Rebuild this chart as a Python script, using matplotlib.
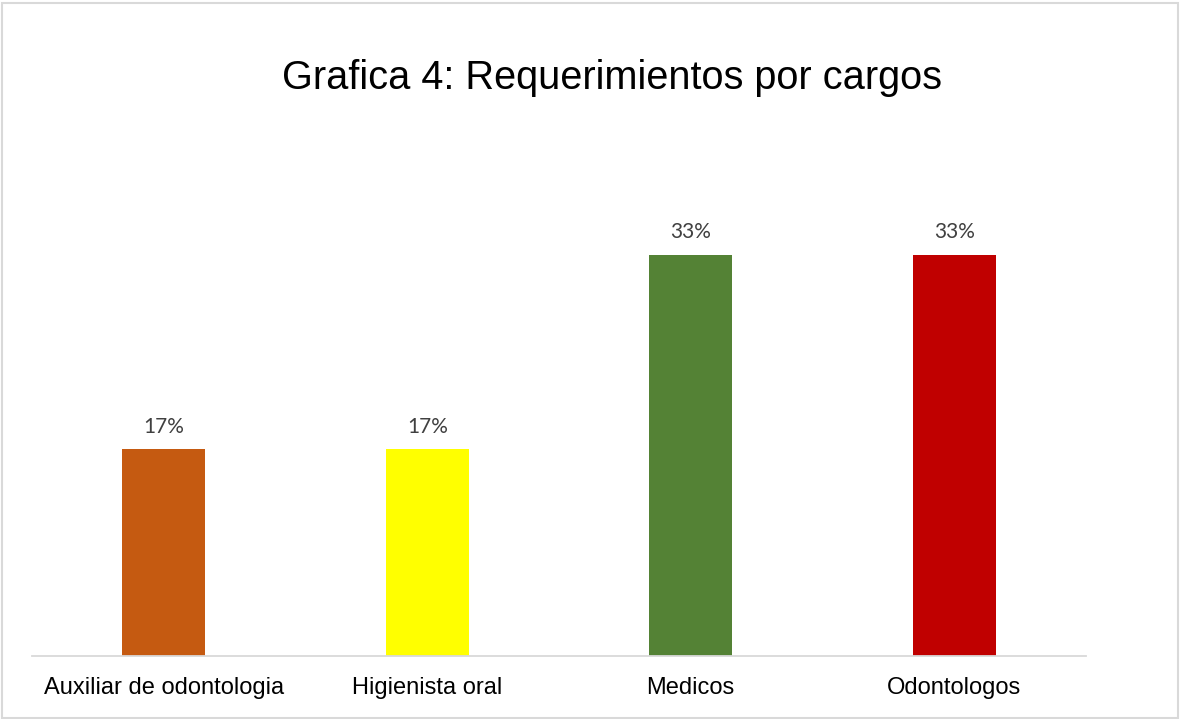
import matplotlib
matplotlib.use("Agg")
import matplotlib.pyplot as plt
from matplotlib.patches import Rectangle

categories = ["Auxiliar de odontologia", "Higienista oral", "Medicos", "Odontologos"]
values = [0.17, 0.17, 0.33, 0.33]
labels = ["17%", "17%", "33%", "33%"]
colors = ["#C55A11", "#FFFF00", "#548235", "#C00000"]

W, H = 1180, 719
fig = plt.figure(figsize=(W / 100, H / 100), dpi=100)

# light grey frame round the whole chart
fig.patches.append(Rectangle((1.5 / W, 1.5 / H), (W - 4) / W, (H - 4) / H,
                             transform=fig.transFigure, fill=False,
                             edgecolor="#d9d9d9", linewidth=1.5))

ax = fig.add_axes([32 / W, 63 / H, (1086 - 32) / W, (656 - 150) / H])
x = range(len(categories))
ax.bar(x, values, width=0.315, color=colors)
ax.set_xlim(-0.5, 3.5)
ax.set_ylim(0, 506 / 1215)

for xi, v, lab in zip(x, values, labels):
    ax.annotate(lab, (xi, v), xytext=(0, 16.5), textcoords="offset points",
                ha="center", va="center", fontsize=15, color="#404040",
                family=["Lato", "DejaVu Sans"])

for s in ["top", "left", "right"]:
    ax.spines[s].set_visible(False)
ax.spines["bottom"].set_color("#d9d9d9")
ax.spines["bottom"].set_linewidth(1.3)
ax.set_yticks([])
ax.set_xticks(list(x))
ax.set_xticklabels(categories, fontsize=17, family="Liberation Sans", color="black")
ax.tick_params(axis="x", length=0, pad=15)

fig.text(612 / W, 1 - 78 / H, "Grafica 4: Requerimientos por cargos",
         ha="center", va="center", fontsize=28.6, family="Liberation Sans", color="black")

fig.savefig("out.png", dpi=100, facecolor="white")
